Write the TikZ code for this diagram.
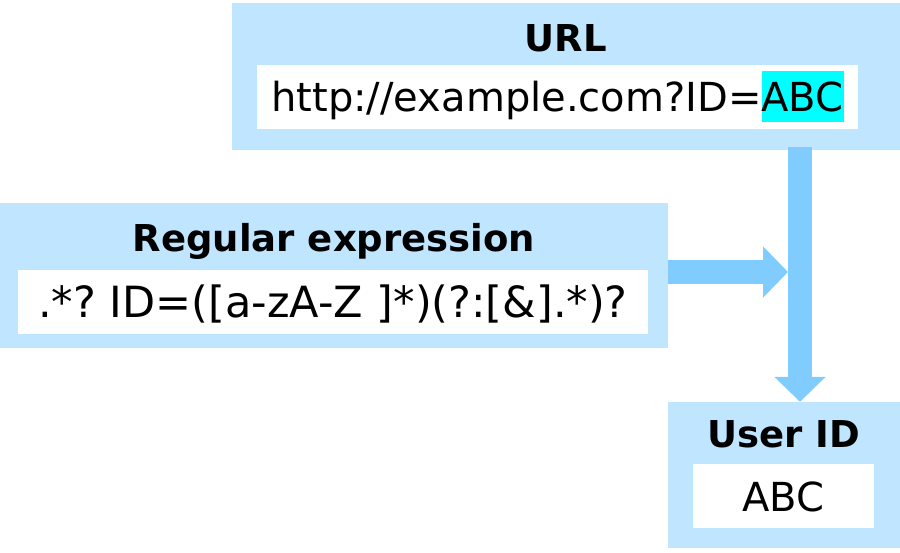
\documentclass[tikz,border=0pt]{standalone}
\usepackage{fontspec}
\setmainfont{DejaVu Sans}
\usetikzlibrary{arrows.meta,positioning}
\definecolor{boxblue}{RGB}{192,230,255}
\definecolor{arrowblue}{RGB}{128,204,255}
\definecolor{hlcyan}{RGB}{0,255,255}
\frenchspacing
\begin{document}
\begin{tikzpicture}[x=1pt, y=-1pt,
    outer/.style={fill=boxblue, draw=none, inner sep=0pt},
    inner/.style={fill=white, inner sep=0pt, minimum height=64pt,
      text height=38pt, text depth=8pt, font=\fontsize{40}{48}\selectfont},
    boxtitle/.style={anchor=base, inner sep=0pt, font=\fontsize{37}{44}\selectfont\bfseries},
    fat/.style={draw=arrowblue, line width=24pt, -{Triangle[width=50pt,length=25pt]}}]
    \useasboundingbox (0,0) rectangle (900,552);

    % boxes
    \node[outer, minimum width=668pt, minimum height=147pt] (url) at (566,76.5) {};
    \node[outer, minimum width=668pt, minimum height=145pt] (regex) at (334,275.5) {};
    \node[outer, minimum width=232pt, minimum height=146pt] (user) at (784,475) {};

    % titles
    \node[boxtitle] (urltitle) at ([yshift=-49pt]url.north) {URL};
    \node[boxtitle] (regextitle) at ([yshift=-49pt]regex.north) {Regular expression};
    \node[boxtitle] (usertitle) at ([yshift=-46pt]user.north) {User ID};

    % contents
    \node[inner, minimum width=601pt] (urltext) at (557.5,96.5)
      {http://example.com?ID={\setlength{\fboxsep}{0pt}\colorbox{hlcyan}{\rule[-10pt]{0pt}{51pt}ABC}}};
    \node[inner, minimum width=630pt, font=\fontsize{43}{50}\selectfont] (regextext) at (333,302)
      {.*? ID=([a-zA-Z ]*)(?:[\&].*)?};
    \node[inner, minimum width=181pt] (usertext) at (783.5,496) {ABC};

    % arrows
    \coordinate (drop) at (800,147);
    \coordinate (join) at (788,272);
    \draw[fat] (drop) -- (drop |- user.north);
    \draw[fat] (regex.east |- join) -- (join);
\end{tikzpicture}
\end{document}
